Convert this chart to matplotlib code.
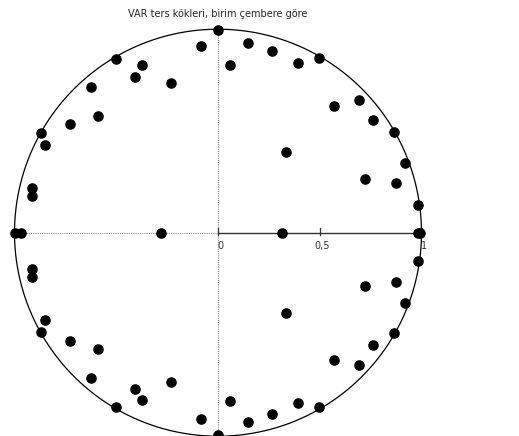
import numpy as np
import matplotlib
matplotlib.use("Agg")
import matplotlib.pyplot as plt

# Inverse roots (upper half-plane and real ones); conjugates mirrored below
re_upper = [0.0, -0.082, 0.147, 0.059, 0.264, 0.395, 0.498, -0.500, -0.375, -0.408,
            -0.229, -0.622, -0.588, -0.725, -0.871, -0.850, -0.912, -0.915,
            0.570, 0.691, 0.763, 0.865, 0.336, 0.919, 0.722, 0.875, 0.981]
im_upper = [0.995, 0.916, 0.931, 0.826, 0.891, 0.835, 0.857, 0.855, 0.822, 0.767,
            0.734, 0.716, 0.572, 0.532, 0.488, 0.429, 0.220, 0.179,
            0.624, 0.650, 0.554, 0.495, 0.395, 0.343, 0.264, 0.244, 0.138]
re_real = [-0.999, -0.966, -0.282, 0.314, 0.985, 0.995]

tick_vals = [0, 0.5, 1]
tick_labels = ["0", "0,5", "1"]
title = "VAR ters kökleri, birim çembere göre"

W, H = 519, 436
fig = plt.figure(figsize=(W / 100, H / 100), dpi=100)
R = 203.5
cx, cy = 218.0, 232.7
ax = fig.add_axes([(cx - R) / W, (H - cy - R) / H, 2 * R / W, 2 * R / H])
ax.set_xlim(-1, 1)
ax.set_ylim(-1, 1)
ax.axis("off")

t = np.linspace(0, 2 * np.pi, 400)
ax.plot(np.cos(t), np.sin(t), color="black", lw=0.9, clip_on=False)

# axes lines
ax.plot([-1, 0], [0, 0], color="#888888", lw=0.8, ls=(0, (1, 1)), clip_on=False)
ax.plot([0, 0], [-1, 1], color="#888888", lw=0.8, ls=(0, (1, 1)), clip_on=False)
ax.plot([0, 1], [0, 0], color="#333333", lw=1.0, clip_on=False)
for v, lab in zip(tick_vals, tick_labels):
    ax.plot([v, v], [-0.012, 0.022], color="#333333", lw=0.9, clip_on=False)
    ax.text(v + 0.01, -0.04, lab, ha="center", va="top", fontsize=7, color="#333333")

re_all = np.array(re_upper + re_upper + re_real)
im_all = np.array(im_upper + [-v for v in im_upper] + [0.0] * len(re_real))
ax.plot(re_all, im_all, "o", color="black", ms=6.6, clip_on=False)

fig.text(cx / W, 1 - 14 / H, title, ha="center", va="center", fontsize=7, color="#222222")

fig.savefig("out.png", dpi=100)
